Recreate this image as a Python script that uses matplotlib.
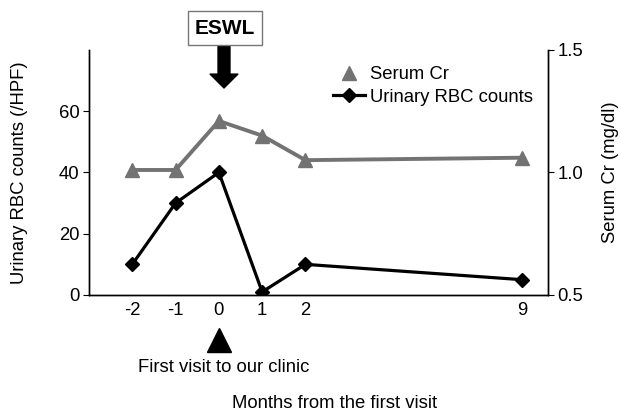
import matplotlib
matplotlib.use('Agg')
import matplotlib.pyplot as plt
import matplotlib.lines as mlines
from matplotlib.transforms import blended_transform_factory

plt.rcParams['font.family'] = ['Liberation Sans', 'DejaVu Sans']
plt.rcParams['font.size'] = 13.3

months = ['-2', '-1', '0', '1', '2', '9']
x_pos = [-2, -1, 0, 1, 2, 7]   # month 9 drawn closer, as in the original
rbc = [10, 30, 40, 1, 10, 5]
serum_cr = [1.01, 1.01, 1.21, 1.15, 1.05, 1.06]

gray = '#737373'
fs = 13.3

fig = plt.figure(figsize=(6.21, 4.12), dpi=100)
ax = fig.add_axes([0.1433, 0.284, 0.739, 0.595])
ax2 = ax.twinx()

ax.plot(x_pos, rbc, color='black', lw=2.3, marker='D', markersize=7, zorder=3)
ax2.plot(x_pos, serum_cr, color=gray, lw=2.8, marker='^', markersize=10, zorder=3)

ax.set_xlim(-3, 7.6)
ax.set_ylim(0, 80)
ax.set_yticks([0, 20, 40, 60])
ax2.set_ylim(0.5, 1.5)
ax2.set_yticks([0.5, 1.0, 1.5])
ax2.set_yticklabels(['0.5', '1.0', '1.5'])
ax.set_xticks(x_pos)
ax.set_xticklabels(months)

for a in (ax, ax2):
    a.spines['top'].set_visible(False)
    a.spines['left'].set_linewidth(1.0)
    a.spines['right'].set_linewidth(1.0)
    a.spines['bottom'].set_linewidth(1.0)
ax.tick_params(axis='x', length=0, pad=5, labelsize=fs)
ax.tick_params(axis='y', length=4, labelsize=fs, pad=3)
ax2.tick_params(axis='y', length=4, labelsize=fs, pad=3)

ax.set_ylabel('Urinary RBC counts (/HPF)', fontsize=fs, labelpad=22)
ax2.set_ylabel('Serum Cr (mg/dl)', fontsize=fs, labelpad=13)

# legend
h_cr = mlines.Line2D([], [], color=gray, marker='^', linestyle='None', markersize=10)
h_rbc = mlines.Line2D([], [], color='black', marker='D', lw=2.3, markersize=7)
fig.legend([h_cr, h_rbc], ['Serum Cr', 'Urinary RBC counts'], loc='upper left',
           bbox_to_anchor=(0.51, 0.88), frameon=False, fontsize=fs,
           handlelength=1.7, handletextpad=0.3, labelspacing=0.3)

# ESWL box and arrow
fig.text(225 / 621, 1 - 28 / 412, 'ESWL', ha='center', va='center',
         fontsize=15, fontweight='bold',
         bbox=dict(boxstyle='square,pad=0.35', fc='white', ec='#777777', lw=1))
ax.annotate('', xy=(224, 412 - 88), xytext=(224, 412 - 46), xycoords='figure pixels',
            textcoords='figure pixels',
            arrowprops=dict(arrowstyle='simple,head_width=20,head_length=10,tail_width=8.6',
                            mutation_scale=1, color='black', shrinkA=0, shrinkB=0))

# first visit marker
tr = blended_transform_factory(ax.transData, fig.transFigure)
ax.plot([0], [1 - 340 / 412], marker='^', markersize=17, color='black',
        transform=tr, clip_on=False, linestyle='None')
fig.text(224 / 621, 1 - 368 / 412, 'First visit to our clinic', ha='center', va='center',
         fontsize=fs)
fig.text(335 / 621, 1 - 403 / 412, 'Months from the first visit', ha='center', va='center',
         fontsize=fs)

fig.savefig('out.png', dpi=100)
